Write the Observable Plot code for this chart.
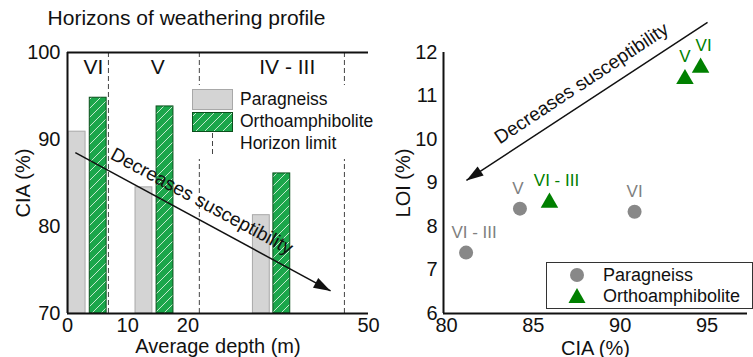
<!DOCTYPE html>
<html>
<head>
<meta charset="utf-8">
<script src="https://cdn.jsdelivr.net/npm/d3@7"></script>
<script src="https://cdn.jsdelivr.net/npm/@observablehq/plot@0.6"></script>
<style>
  body { margin: 0; background: #fff; }
  #wrap { position: relative; width: 753px; height: 357px; font-family: "Liberation Sans", Arial, sans-serif; overflow: hidden; }
  #left, #right, #title, #legL, #legR { position: absolute; }
  #left { left: 0; top: 0; }
  #right { left: 380px; top: 0; }
  #title { left: 0; top: 7px; width: 373px; text-align: center; font-size: 21px; line-height: 1; color: #111; }
</style>
</head>
<body>
<svg width="0" height="0" style="position:absolute">
  <defs>
    <pattern id="hatch" patternUnits="userSpaceOnUse" width="9" height="9">
      <rect width="9" height="9" fill="#1ba64b"></rect>
      <path d="M0,9 L9,0 M-2,2 L2,-2 M7,11 L11,7" stroke="#d8f0dc" stroke-width="0.9"></path>
    </pattern>
  </defs>
</svg>
<div id="wrap">
  <div id="left"></div>
  <div id="right"></div>
  <div id="title">Horizons of weathering profile</div>
  <svg id="legL" style="left:188px;top:85px" width="190" height="74">
    <rect x="0" y="0" width="190" height="74" fill="#fff"></rect>
    <rect x="4.5" y="4.5" width="40" height="20" fill="#d4d4d4" stroke="#a8a8a8"></rect>
    <rect x="4.5" y="27.5" width="40" height="19" fill="url(#hatch)" stroke="#0b4f1c"></rect>
    <line x1="24.5" x2="24.5" y1="48" y2="69" stroke="#444" stroke-dasharray="5,3"></line>
    <g font-family="Liberation Sans, Arial, sans-serif" font-size="17.5" fill="#111">
      <text x="52" y="20">Paragneiss</text>
      <text x="52" y="42">Orthoamphibolite</text>
      <text x="52" y="64">Horizon limit</text>
    </g>
  </svg>
  <svg id="legR" style="left:546px;top:262px" width="207" height="47">
    <rect x="0.5" y="0.5" width="206" height="46" fill="#fff" stroke="#333"></rect>
    <circle cx="31" cy="13" r="7" fill="#888"></circle>
    <path d="M31,26 L39.5,41 L22.5,41 Z" fill="#008000"></path>
    <g font-family="Liberation Sans, Arial, sans-serif" font-size="18" fill="#111">
      <text x="57" y="19">Paragneiss</text>
      <text x="57" y="40">Orthoamphibolite</text>
    </g>
  </svg>
</div>
<script>
// ---- Left panel data: CIA by average depth ----
const horizons = ["VI", "V", "IV - III"];
const horizonLabelDepth = [4.3, 15.0, 36.5];
const paragneissDepth = [1.6, 12.7, 32.2];
const paragneissCIA = [90.9, 84.5, 81.3];
const orthoDepth = [5.1, 16.2, 35.6];
const orthoCIA = [94.8, 93.8, 86.1];
const horizonLimits = [6.8, 21.9, 46.0];
const depthTicks = [0, 10, 20, 50];
const ciaTicks = [70, 80, 90, 100];

// ---- Right panel data: LOI vs CIA ----
const pgLabels = ["VI - III", "V", "VI"];
const pgCIA = [81.3, 84.4, 91.0];
const pgLOI = [7.40, 8.41, 8.34];
const oaLabels = ["VI - III", "V", "VI"];
const oaCIA = [86.1, 93.9, 94.8];
const oaLOI = [8.55, 11.39, 11.65];
const ciaTicks2 = [80, 85, 90, 95];
const loiTicks = [6, 7, 8, 9, 10, 11, 12];

// annotation arrows (data units)
const arrowL = [{x1: 1.3, y1: 88.5, x2: 43.7, y2: 72.6, tx: 22.3, ty: 82.9}];
const arrowR = [{x1: 95.2, y1: 12.69, x2: 81.32, y2: 9.06, tx: 87.94, ty: 11.29}];
const arrowText = "Decreases susceptibility";

const FONT = "Liberation Sans, Arial, sans-serif";
const head = { draw(ctx) { ctx.moveTo(0, 0); ctx.lineTo(-17, -5.5); ctx.lineTo(-17, 5.5); ctx.closePath(); } };

const barW = 2.8;
const grayBars = paragneissDepth.map((d, i) => ({d, v: paragneissCIA[i]}));
const greenBars = orthoDepth.map((d, i) => ({d, v: orthoCIA[i]}));
const hz = horizons.map((h, i) => ({h, x: horizonLabelDepth[i]}));

const left = Plot.plot({
  width: 380, height: 357,
  marginLeft: 67, marginRight: 12, marginTop: 52, marginBottom: 44,
  style: {fontFamily: FONT, fontSize: "20px", color: "#111", background: "transparent", overflow: "visible"},
  x: {domain: [0, 50]},
  y: {domain: [70, 100]},
  marks: [
    Plot.ruleX(horizonLimits, {y1: 70, y2: 100, stroke: "#444", strokeDasharray: "5,3", strokeWidth: 1}),
    Plot.rect(grayBars, {x1: d => d.d - barW / 2, x2: d => d.d + barW / 2, y1: 70, y2: "v", fill: "#d4d4d4", stroke: "#a8a8a8"}),
    Plot.rect(greenBars, {x1: d => d.d - barW / 2, x2: d => d.d + barW / 2, y1: 70, y2: "v", fill: "url(#hatch)", stroke: "#0b4f1c"}),
    Plot.text(hz, {x: "x", y: 98.3, text: "h", fontSize: 21, fill: "#111"}),
    Plot.link(arrowL, {x1: "x1", y1: "y1", x2: "x2", y2: "y2", stroke: "#111", strokeWidth: 1.5}),
    Plot.dot(arrowL, {x: "x2", y: "y2", symbol: head, r: 5, fill: "#111", stroke: "none", rotate: 28.4}),
    Plot.text(arrowL, {x: "tx", y: "ty", text: () => arrowText, rotate: 28.4, fontSize: 19, fill: "#111"}),
    Plot.ruleY([70, 100], {strokeWidth: 2, stroke: "#111"}),
    Plot.ruleX([0], {strokeWidth: 2, stroke: "#111"}),
    Plot.axisY({ticks: ciaTicks, tickFormat: "d", tickSize: 0, tickPadding: 7, label: "CIA (%)", labelAnchor: "center", labelOffset: 52, labelArrow: "none", fontSize: 20}),
    Plot.axisX({ticks: depthTicks, tickFormat: "d", tickSize: 0, tickPadding: 4, label: "Average depth (m)", labelAnchor: "center", labelOffset: 39, labelArrow: "none", fontSize: 20})
  ]
});
document.getElementById("left").append(left);

const pg = pgCIA.map((c, i) => ({c, l: pgLOI[i], t: pgLabels[i]}));
const oa = oaCIA.map((c, i) => ({c, l: oaLOI[i], t: oaLabels[i]}));
const pgDx = [8, -2, 0];
const oaDx = [7, 0, 3];

const right = Plot.plot({
  width: 373, height: 357,
  marginLeft: 63, marginRight: 6, marginTop: 52, marginBottom: 44,
  style: {fontFamily: FONT, fontSize: "20px", color: "#111", background: "transparent", overflow: "visible"},
  x: {domain: [80, 97.5]},
  y: {domain: [6, 12]},
  marks: [
    Plot.dot(pg, {x: "c", y: "l", r: 7, fill: "#888", stroke: "none"}),
    Plot.dot(oa, {x: "c", y: "l", r: 6.5, symbol: "triangle", fill: "#008000", stroke: "none"}),
    ...pg.map((d, i) => Plot.text([d], {x: "c", y: "l", text: "t", dy: -20, dx: pgDx[i], fill: "#808080", fontSize: 17})),
    ...oa.map((d, i) => Plot.text([d], {x: "c", y: "l", text: "t", dy: -22, dx: oaDx[i], fill: "#008000", fontSize: 17})),
    Plot.link(arrowR, {x1: "x1", y1: "y1", x2: "x2", y2: "y2", stroke: "#111", strokeWidth: 1.5}),
    Plot.dot(arrowR, {x: "x2", y: "y2", symbol: head, r: 5, fill: "#111", stroke: "none", rotate: 146.6}),
    Plot.text(arrowR, {x: "tx", y: "ty", text: () => arrowText, rotate: -33.4, fontSize: 19, fill: "#111"}),
    Plot.ruleY([6], {strokeWidth: 2, stroke: "#111"}),
    Plot.ruleX([80], {strokeWidth: 2, stroke: "#111"}),
    Plot.axisY({ticks: loiTicks, tickFormat: "d", tickSize: 0, tickPadding: 6, label: "LOI (%)", labelAnchor: "center", labelOffset: 48, labelArrow: "none", fontSize: 20}),
    Plot.axisX({ticks: ciaTicks2, tickFormat: "d", tickSize: 0, tickPadding: 4, dx: 3, label: "CIA (%)", labelAnchor: "center", labelOffset: 41, labelArrow: "none", fontSize: 20})
  ]
});
document.getElementById("right").append(right);
</script>
</body>
</html>
